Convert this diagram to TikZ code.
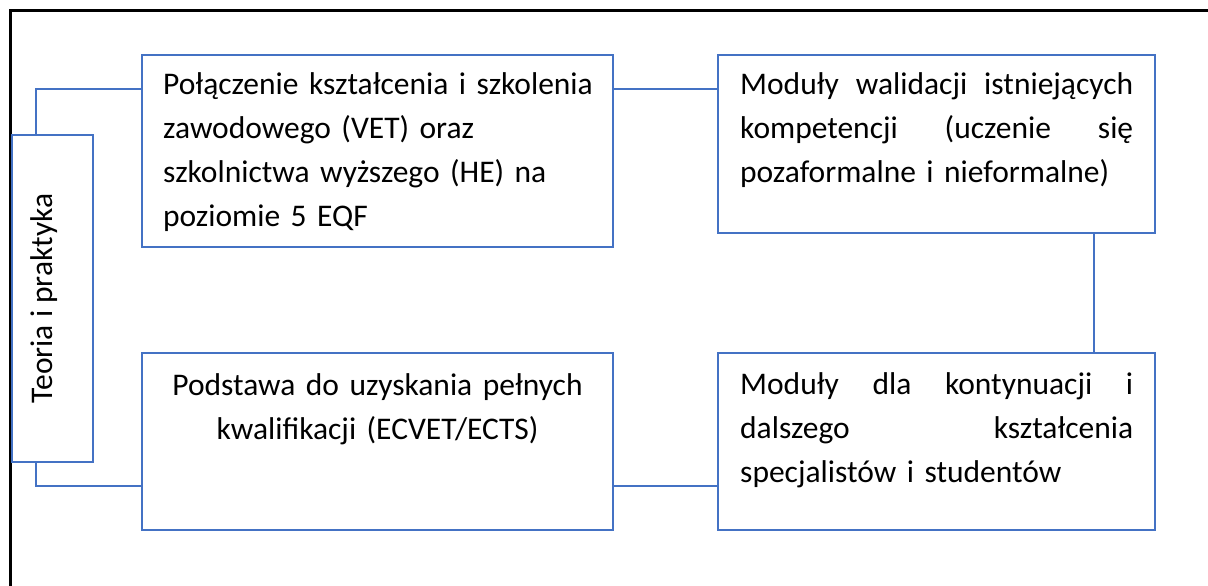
\documentclass[tikz,border=0pt]{standalone}
\usepackage{fontspec}
\setmainfont{Carlito}
\usetikzlibrary{positioning}
\definecolor{boxblue}{HTML}{4472C4}

\begin{document}
\begin{tikzpicture}[x=1pt, y=-1pt,
		box/.style={draw=boxblue, line width=2.6pt, inner sep=0pt, outer sep=0pt},
		txt/.style={inner sep=0pt, font=\fontsize{31.5}{44}\selectfont},
		link/.style={draw=boxblue, line width=1.3pt}]
		% Page size and the cut frame
		\useasboundingbox (0,0) rectangle (1208,586);
		\draw[line width=3pt] (1208,11) -- (10,11) -- (10,586);

		% Boxes
		\node[box, anchor=north west, minimum width=81pt, minimum height=327pt] (teoria) at (12,135) {};
		\node[box, anchor=north west, minimum width=471pt, minimum height=192pt] (laczenie) at (142,55) {};
		\node[box, right=105pt of laczenie.north east, anchor=north west, minimum width=437pt, minimum height=178pt] (walidacja) {};
		\node[box, below=106pt of laczenie.south west, anchor=north west, minimum width=471pt, minimum height=177pt] (podstawa) {};
		\node[box, right=105pt of podstawa.north east, anchor=north west, minimum width=437pt, minimum height=177pt] (moduly) {};

		% Texts in the boxes
		\node[txt, rotate=90, anchor=base] at (teoria.center) {Teoria i praktyka};
		\node[txt, anchor=base west, text width=450pt, align=left] at ([shift={(21,40)}]laczenie.north west)
			{Połączenie kształcenia i szkolenia\\ zawodowego (VET) oraz\\ szkolnictwa wyższego (HE) na\\ poziomie 5 EQF};
		\node[txt, anchor=base west, text width=393pt, align=left] at ([shift={(22,40)}]walidacja.north west)
			{Moduły\hfill walidacji\hfill istniejących\\ kompetencji\hfill (uczenie\hfill się\\ pozaformalne i nieformalne)};
		\node[txt, anchor=base, text width=440pt, align=center] at ([shift={(0,42)}]podstawa.north)
			{Podstawa do uzyskania pełnych\\ kwalifikacji (ECVET/ECTS)};
		\node[txt, anchor=base west, text width=393pt, align=left] at ([shift={(22,41)}]moduly.north west)
			{Moduły\hfill dla\hfill kontynuacji\hfill i\\ dalszego\hfill kształcenia\\ specjalistów i studentów};

		% Connectors
		\draw[link] ([xshift=-16.5pt]teoria.north) |- ([yshift=-34pt]laczenie.north west);
		\draw[link] ([xshift=-16.5pt]teoria.south) |- ([yshift=44pt]podstawa.south west);
		\draw[link] ([yshift=-34pt]laczenie.north east) -- ([yshift=-34pt]walidacja.north west);
		\draw[link] ([xshift=-61pt]walidacja.south east) -- ([xshift=-61pt]moduly.north east);
		\draw[link] ([yshift=44pt]podstawa.south east) -- ([yshift=44pt]moduly.south west);
	\end{tikzpicture}
\end{document}
